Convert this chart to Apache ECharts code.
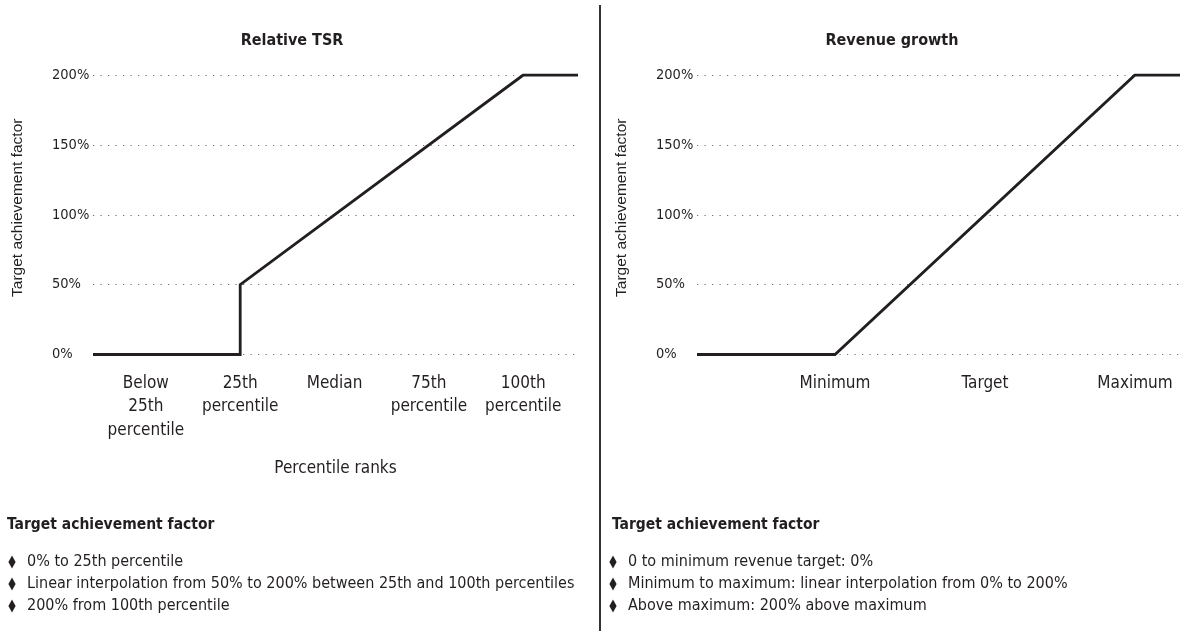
<!DOCTYPE html>
<html>
<head>
<meta charset="utf-8">
<script src="https://cdn.jsdelivr.net/npm/echarts@6/dist/echarts.min.js"></script>
<style>
  html, body { margin: 0; padding: 0; background: #fff; }
  #chart { width: 1184px; height: 631px; }
</style>
</head>
<body>
<div id="chart"></div>
<script>
// Panel titles
const panelTitles = ['Relative TSR', 'Revenue growth'];

// Left panel: relative TSR percentile ranks (x positions 1..5)
const tsrRanks = ['Below\n25th\npercentile', '25th\npercentile', 'Median', '75th\npercentile', '100th\npercentile'];
const tsrRankPositions = [1, 2, 3, 4, 5];
// Payout curve: [rank position, target achievement factor %]
const tsrCurve = [[0.44, 0], [2, 0], [2, 50], [5, 200], [5.58, 200]];

// Right panel: revenue growth thresholds (x positions 1..3)
const revenueThresholds = ['Minimum', 'Target', 'Maximum'];
const revenuePositions = [1, 2, 3];
const revenueCurve = [[0.08, 0], [1, 0], [3, 200], [3.3, 200]];

// Y axis ticks (%)
const factorTicks = [0, 50, 100, 150, 200];

// Notes under each panel
const notesHeading = 'Target achievement factor';
const tsrNotes = [
  '0% to 25th percentile',
  'Linear interpolation from 50% to 200% between 25th and 100th percentiles',
  '200% from 100th percentile'
];
const revenueNotes = [
  '0 to minimum revenue target: 0%',
  'Minimum to maximum: linear interpolation from 0% to 200%',
  'Above maximum: 200% above maximum'
];

const condensed = '"Liberation Sans Narrow", "DejaVu Sans Condensed", "Roboto", sans-serif';
const plain = '"Liberation Sans", Arial, sans-serif';
const ink = '#231f20';

const chart = echarts.init(document.getElementById('chart'), null, { renderer: 'canvas' });

function yAxisFor(gridIndex) {
  return {
    type: 'value',
    gridIndex,
    min: factorTicks[0],
    max: factorTicks[factorTicks.length - 1],
    interval: factorTicks[1] - factorTicks[0],
    name: 'Target achievement factor',
    nameLocation: 'middle',
    nameRotate: 90,
    nameGap: 67,
    nameTextStyle: { fontFamily: plain, fontSize: 15.5, color: ink, padding: [0, 0, 0, 14] },
    axisLine: { show: false },
    axisTick: { show: false },
    axisLabel: {
      align: 'left',
      margin: 41,
      fontFamily: condensed,
      fontSize: 14.5,
      color: ink,
      formatter: v => v + '%'
    },
    splitLine: {
      show: true,
      lineStyle: { color: '#6f6f6f', width: 1.2, type: [1.2, 6.3] }
    }
  };
}

function xAxisFor(gridIndex, min, max, positions, names, extra) {
  return Object.assign({
    type: 'value',
    gridIndex,
    min,
    max,
    axisLine: { show: false },
    axisTick: { show: false },
    splitLine: { show: false },
    axisLabel: {
      customValues: positions,
      margin: 17,
      lineHeight: 23.5,
      fontFamily: condensed,
      fontSize: 17,
      color: ink,
      align: 'center',
      formatter: v => {
        const i = positions.indexOf(Math.round(v));
        return i >= 0 ? names[i] : '';
      }
    }
  }, extra || {});
}

// Bullet notes as text + diamond markers
const graphics = [];
function addNotes(xHead, xBullet, notes) {
  graphics.push({
    type: 'text', left: xHead, top: 517,
    style: { text: notesHeading, font: 'bold 15.5px ' + condensed, fill: ink }
  });
  notes.forEach((t, i) => {
    const cy = 562 + i * 22;
    graphics.push({
      type: 'polygon',
      shape: { points: [[xBullet, cy - 6.5], [xBullet + 3.6, cy], [xBullet, cy + 6.5], [xBullet - 3.6, cy]] },
      style: { fill: ink }
    });
    graphics.push({
      type: 'text', x: xBullet + 15, y: cy,
      style: { text: t, font: '16px ' + condensed, fill: ink, verticalAlign: 'middle' }
    });
  });
}
addNotes(7, 12, tsrNotes);
addNotes(612, 613, revenueNotes);

// Divider between the two panels
graphics.push({
  type: 'line',
  shape: { x1: 600, y1: 5, x2: 600, y2: 631 },
  style: { stroke: '#333', lineWidth: 2 }
});

const option = {
  backgroundColor: '#fff',
  animation: false,
  title: [
    { text: panelTitles[0], left: 287, top: 28, textAlign: 'center',
      textStyle: { fontFamily: condensed, fontWeight: 'bold', fontSize: 16, color: ink } },
    { text: panelTitles[1], left: 887, top: 28, textAlign: 'center',
      textStyle: { fontFamily: condensed, fontWeight: 'bold', fontSize: 16, color: ink } }
  ],
  grid: [
    { left: 93, right: 606, top: 75, height: 279.5 },
    { left: 697, right: 4, top: 75, height: 279.5 }
  ],
  xAxis: [
    xAxisFor(0, 0.44, 5.58, tsrRankPositions, tsrRanks, {
      name: 'Percentile ranks',
      nameLocation: 'middle',
      nameGap: 106,
      nameTextStyle: { fontFamily: condensed, fontSize: 17, color: ink }
    }),
    xAxisFor(1, 0.08, 3.3, revenuePositions, revenueThresholds)
  ],
  yAxis: [yAxisFor(0), yAxisFor(1)],
  series: [
    {
      type: 'line', xAxisIndex: 0, yAxisIndex: 0,
      data: tsrCurve, symbol: 'none',
      lineStyle: { color: ink, width: 2.8, join: 'miter' }
    },
    {
      type: 'line', xAxisIndex: 1, yAxisIndex: 1,
      data: revenueCurve, symbol: 'none',
      lineStyle: { color: ink, width: 2.8, join: 'miter' }
    }
  ],
  graphic: graphics
};

chart.setOption(option);
</script>
</body>
</html>
